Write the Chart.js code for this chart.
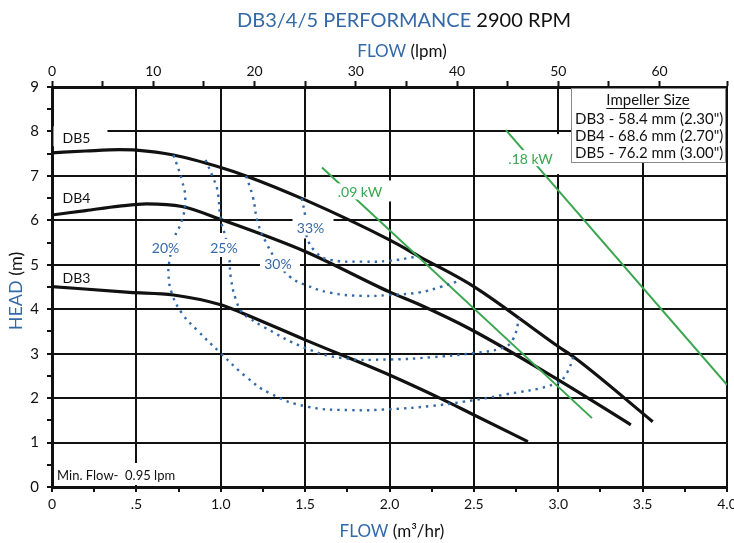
<!DOCTYPE html>
<html>
<head>
<meta charset="utf-8">
<title>DB3/4/5 Performance 2900 RPM</title>
<script src="https://cdn.jsdelivr.net/npm/chart.js@4.4.1/dist/chart.umd.min.js"></script>
<style>
  html, body { margin: 0; padding: 0; background: #fff; }
</style>
</head>
<body>
<canvas id="pump" width="734" height="543"></canvas>
<script>
// pump curves, flow in m3/hr, head in m
const db5Flow = [0, 0.2, 0.4, 0.5, 0.72, 1.0, 1.15, 1.5, 2.0, 2.18, 2.5, 3.0, 3.09, 3.56];
const db5Head = [7.52, 7.56, 7.59, 7.58, 7.47, 7.19, 7.0, 6.46, 5.56, 5.18, 4.51, 3.16, 2.93, 1.47];
const db4Flow = [0, 0.2, 0.4, 0.56, 0.77, 1.0, 1.5, 2.0, 2.18, 2.48, 3.0, 3.43];
const db4Head = [6.12, 6.22, 6.32, 6.37, 6.31, 6.02, 5.30, 4.39, 4.10, 3.55, 2.41, 1.40];
const db3Flow = [0, 0.46, 0.72, 1.0, 1.13, 1.5, 2.0, 2.32, 2.48, 2.82];
const db3Head = [4.51, 4.38, 4.32, 4.10, 3.91, 3.31, 2.52, 1.96, 1.66, 1.02];

// efficiency lines
const eff20Flow = [0.72, 0.77, 0.79, 0.77, 0.72, 0.70, 0.69, 0.71, 0.77, 0.86, 1.0, 1.15, 1.29, 1.51, 1.77, 2.0, 2.24, 2.44, 2.67, 2.99, 3.05, 3.09];
const eff20Head = [7.47, 6.9, 6.46, 6.0, 5.56, 5.18, 4.81, 4.36, 3.91, 3.53, 3.01, 2.48, 2.11, 1.81, 1.73, 1.75, 1.82, 1.92, 2.07, 2.33, 2.56, 2.93];
const eff25Flow = [0.91, 0.95, 0.98, 1.0, 1.03, 1.05, 1.06, 1.09, 1.13, 1.17, 1.25, 1.5, 1.72, 2.0, 2.25, 2.49, 2.67, 2.73, 2.77];
const eff25Head = [7.36, 7.0, 6.68, 6.02, 5.6, 5.18, 4.7, 4.21, 3.91, 3.8, 3.61, 3.13, 2.90, 2.87, 2.92, 3.01, 3.13, 3.31, 3.8];
const eff30Flow = [1.15, 1.19, 1.22, 1.27, 1.33, 1.41, 1.5, 1.65, 1.84, 2.0, 2.18, 2.3, 2.40];
const eff30Head = [7.0, 6.53, 5.94, 5.49, 5.1, 4.73, 4.55, 4.37, 4.30, 4.32, 4.38, 4.5, 4.62];
const eff33Flow = [1.48, 1.50, 1.51, 1.57, 1.65, 1.84, 2.0, 2.17];
const eff33Head = [6.5, 6.1, 5.63, 5.26, 5.11, 5.07, 5.09, 5.19];

// power lines
const kw09Flow = [1.60, 3.20];
const kw09Head = [7.19, 1.55];
const kw18Flow = [2.69, 4.0];
const kw18Head = [8.03, 2.30];

const flowTicks = [0, 0.5, 1.0, 1.5, 2.0, 2.5, 3.0, 3.5, 4.0];
const flowTickText = ['0', '.5', '1.0', '1.5', '2.0', '2.5', '3.0', '3.5', '4.0'];
const headTicks = [0, 1, 2, 3, 4, 5, 6, 7, 8, 9];
const lpmTicks = [0, 10, 20, 30, 40, 50, 60];

const impeller = ['DB3 - 58.4 mm (2.30")', 'DB4 - 68.6 mm (2.70")', 'DB5 - 76.2 mm (3.00")'];

const INK = '#111';
const BLUE = '#3469a8';
const GREEN = '#3aa64f';
const FONT = 'Lato, "Open Sans", sans-serif';
const NONE = 'rgba(0,0,0,0)';

// labels on the plot, anchored in data units; gap = white patch in px round the anchor
const notes = [
  { text: 'DB5', x: 0.145, y: 7.87, color: INK, gap: [-23, -11, 31, 9] },
  { text: 'DB4', x: 0.145, y: 6.51, color: INK },
  { text: 'DB3', x: 0.145, y: 4.72, color: INK },
  { text: '20%', x: 0.673, y: 5.40, color: BLUE },
  { text: '25%', x: 1.019, y: 5.40, color: BLUE, gap: [-16, -14, 15, 10] },
  { text: '30%', x: 1.339, y: 5.03, color: BLUE, gap: [-18, -8, 22, 7] },
  { text: '33%', x: 1.532, y: 5.84, color: BLUE, gap: [-18, -30, 23, 11] },
  { text: '.09 kW', x: 1.825, y: 6.65, color: GREEN, gap: [-25, -11, 33, 10] },
  { text: '.18 kW', x: 2.836, y: 7.40, color: GREEN, gap: [-26, -24, 33, 16] },
  { text: 'Min. Flow-  0.95 lpm', x: 0.03, y: 0.27, color: INK, size: 13, align: 'left', gap: [-2, -12, 123, 10] }
];

const pts = (xs, ys) => xs.map((x, i) => ({ x: x, y: ys[i] }));
const near = (v, list) => list.some(t => Math.abs(t - v) < 1e-6);

const pumpLine = (label, xs, ys) => ({
  label: label, data: pts(xs, ys), showLine: true, borderColor: INK, borderWidth: 3.2,
  pointRadius: 0, cubicInterpolationMode: 'monotone'
});
const effLine = (label, xs, ys) => ({
  label: label, data: pts(xs, ys), showLine: true, borderColor: BLUE, borderWidth: 2.4,
  borderDash: [2.4, 5], pointRadius: 0, tension: 0.45
});
const kwLine = (label, xs, ys) => ({
  label: label, data: pts(xs, ys), showLine: true, borderColor: GREEN, borderWidth: 2,
  pointRadius: 0, tension: 0
});

const mixed = (ctx, parts, cx, cy, size) => {
  ctx.font = size + 'px ' + FONT;
  const w = parts.map(p => ctx.measureText(p[0]).width);
  let x = cx - w.reduce((a, b) => a + b, 0) / 2;
  ctx.textAlign = 'left';
  ctx.textBaseline = 'middle';
  parts.forEach((p, i) => {
    ctx.fillStyle = p[1];
    ctx.fillText(p[0], x, cy);
    x += w[i];
  });
};

// white patches where the grid is broken round labels
const gridGaps = {
  id: 'gridGaps',
  beforeDatasetsDraw(chart) {
    const { ctx, scales } = chart;
    ctx.save();
    ctx.fillStyle = '#fff';
    notes.forEach(n => {
      if (!n.gap) return;
      const px = scales.x.getPixelForValue(n.x);
      const py = scales.y.getPixelForValue(n.y);
      ctx.fillRect(px + n.gap[0], py + n.gap[1], n.gap[2] - n.gap[0], n.gap[3] - n.gap[1]);
    });
    ctx.restore();
  }
};

const labelsAndTitles = {
  id: 'labelsAndTitles',
  afterDatasetsDraw(chart) {
    const { ctx, scales, chartArea } = chart;
    ctx.save();
    notes.forEach(n => {
      const px = scales.x.getPixelForValue(n.x);
      const py = scales.y.getPixelForValue(n.y);
      ctx.font = (n.size || 14) + 'px ' + FONT;
      const w = ctx.measureText(n.text).width;
      const left = n.align === 'left' ? px : px - w / 2;
      ctx.fillStyle = '#fff';
      ctx.fillRect(left - 3, py - 8, w + 6, 16);
      ctx.fillStyle = n.color;
      ctx.textAlign = 'left';
      ctx.textBaseline = 'middle';
      ctx.fillText(n.text, left, py + 1);
    });

    // impeller size box
    const bx = chartArea.right - 156, by = chartArea.top + 1;
    ctx.fillStyle = '#fff';
    ctx.fillRect(bx, by, 155, 75);
    ctx.strokeStyle = '#8a8a8a';
    ctx.lineWidth = 1;
    ctx.strokeRect(bx + 0.5, by + 0.5, 154, 74);
    ctx.fillStyle = INK;
    ctx.font = '15px ' + FONT;
    ctx.textBaseline = 'middle';
    ctx.textAlign = 'center';
    const head = 'Impeller Size';
    const hw = ctx.measureText(head).width;
    const hx = bx + 77;
    ctx.fillText(head, hx, by + 12);
    ctx.fillRect(hx - hw / 2, by + 20, hw, 1);
    ctx.textAlign = 'left';
    impeller.forEach((t, i) => ctx.fillText(t, bx + 4, by + 31 + i * 17));
    ctx.restore();
  },
  afterDraw(chart) {
    const { ctx } = chart;
    ctx.save();
    mixed(ctx, [['DB3/4/5 PERFORMANCE ', BLUE], ['2900 RPM', INK]], 404, 21, 20);
    mixed(ctx, [['FLOW ', BLUE], ['(lpm)', INK]], 402, 52, 17);
    mixed(ctx, [['FLOW ', BLUE], ['(m³/hr)', INK]], 392, 532, 17);
    ctx.translate(16, 291);
    ctx.rotate(-Math.PI / 2);
    mixed(ctx, [['HEAD ', BLUE], ['(m)', INK]], 0, 0, 18);
    ctx.restore();
  }
};

const tickFont = { family: FONT, size: 14 };

new Chart(document.getElementById('pump'), {
  type: 'scatter',
  data: {
    datasets: [
      effLine('20%', eff20Flow, eff20Head),
      effLine('25%', eff25Flow, eff25Head),
      effLine('30%', eff30Flow, eff30Head),
      effLine('33%', eff33Flow, eff33Head),
      kwLine('.09 kW', kw09Flow, kw09Head),
      kwLine('.18 kW', kw18Flow, kw18Head),
      pumpLine('DB5', db5Flow, db5Head),
      pumpLine('DB4', db4Flow, db4Head),
      pumpLine('DB3', db3Flow, db3Head)
    ]
  },
  options: {
    responsive: false,
    animation: false,
    layout: { padding: { top: 0, left: 0, right: 7, bottom: 0 } },
    plugins: { legend: { display: false }, tooltip: { enabled: false }, title: { display: false } },
    scales: {
      x: {
        type: 'linear', position: 'bottom', min: 0, max: 4,
        afterFit: s => { s.height = 56; s.paddingLeft = 0; s.paddingRight = 0; },
        border: { color: INK, width: 3 },
        grid: {
          color: c => near(c.tick.value, flowTicks) ? INK : NONE,
          lineWidth: 2, tickColor: INK, tickWidth: 2, tickLength: 5
        },
        ticks: {
          stepSize: 0.25, autoSkip: false, maxRotation: 0, padding: 4, color: INK, font: tickFont,
          callback: v => {
            const i = flowTicks.findIndex(t => Math.abs(t - v) < 1e-6);
            return i < 0 ? '' : flowTickText[i];
          }
        }
      },
      x2: {
        type: 'linear', position: 'top', min: 0, max: 4 * 1000 / 60,
        afterFit: s => { s.height = 87; s.paddingLeft = 0; s.paddingRight = 0; },
        border: { color: INK, width: 3 },
        grid: { drawOnChartArea: false, tickColor: INK, tickWidth: 2, tickLength: 6 },
        ticks: {
          stepSize: 5, autoSkip: false, maxRotation: 0, padding: 1, color: INK, font: tickFont,
          callback: v => near(v, lpmTicks) ? String(v) : ''
        }
      },
      y: {
        min: 0, max: 9,
        afterFit: s => { s.width = 52; s.paddingTop = 0; s.paddingBottom = 0; },
        border: { color: INK, width: 3 },
        grid: {
          color: c => near(c.tick.value, headTicks) ? INK : NONE,
          lineWidth: 2, tickColor: INK, tickWidth: 2, tickLength: 5
        },
        ticks: {
          stepSize: 0.5, autoSkip: false, padding: 8, color: INK, font: { family: FONT, size: 15 },
          callback: v => near(v, headTicks) ? String(v) : ''
        }
      }
    }
  },
  plugins: [gridGaps, labelsAndTitles]
});
</script>
</body>
</html>
